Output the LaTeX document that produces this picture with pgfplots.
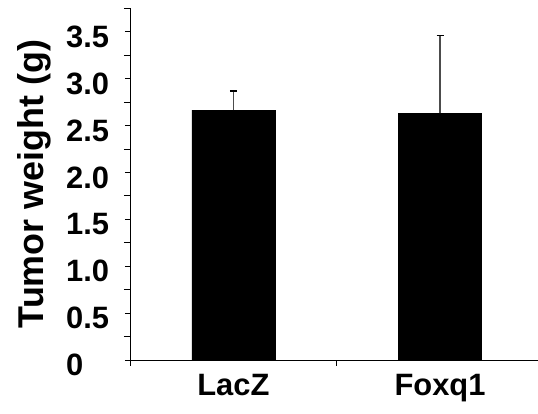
\documentclass[border=0pt]{standalone}
\usepackage{pgfplots}
\pgfplotsset{compat=1.18}
\usepackage{fontspec}
\setmainfont{Liberation Sans}
\begin{document}
\begin{tikzpicture}
\useasboundingbox (-130bp,-54bp) rectangle (408bp,360bp);
\begin{axis}[
  at={(0,0)}, anchor=south west,
  scale only axis, width=408bp, height=351.7bp,
  xmin=-0.5, xmax=1.474, ymin=0, ymax=3.75,
  axis lines*=left,
  axis line style={line width=0.9bp},
  tick align=outside,
  major tick length=5bp, minor tick length=6bp,
  tick style={line width=0.8bp, black},
  xtick={0,1}, xticklabels={LacZ,Foxq1},
  major x tick style={draw=none},
  minor xtick={-0.5,0.5,1.5},
  ytick={0,0.5,...,3.5},
  yticklabels={0,0.5,1.0,1.5,2.0,2.5,3.0,3.5},
  minor ytick={0.25,0.75,...,3.75},
  yticklabel style={anchor=west, inner sep=0pt, xshift=-59bp, yshift=-5bp, font=\fontsize{31}{36}\selectfont\bfseries},
  xticklabel style={anchor=north, inner sep=0pt, yshift=-9bp, font=\fontsize{31}{36}\selectfont\bfseries},
  ylabel={Tumor weight (g)},
  every axis y label/.style={at={(axis description cs:-0.1926,0.5)}, rotate=90, anchor=south, inner sep=0pt, font=\fontsize{36}{40}\selectfont\bfseries},
  clip=false,
]
\addplot[ybar, bar width=83bp, fill=black, draw=black,
  error bars/.cd, y dir=plus, y explicit,
  error bar style={line width=1.1bp, color=black!70},
  error mark options={rotate=90, mark size=3.5bp, line width=1.5bp, black}]
  coordinates {(0,2.665) +- (0,0.205) (1,2.63) +- (0,0.83)};
\end{axis}
\end{tikzpicture}
\end{document}
